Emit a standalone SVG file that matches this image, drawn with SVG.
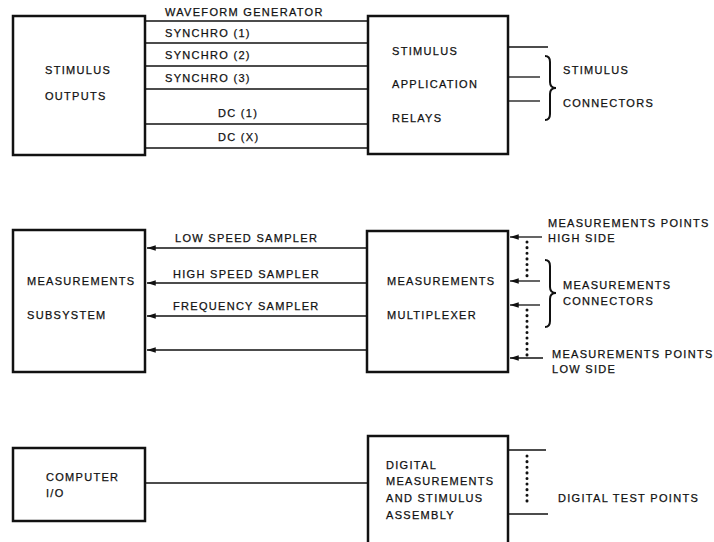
<svg xmlns="http://www.w3.org/2000/svg" width="714" height="542" viewBox="0 0 714 542">
  <defs>
    <style>
      .box { fill: #fff; stroke: #111; stroke-width: 2.5; }
      .ln { stroke: #111; stroke-width: 1.3; fill: none; }
      .dot { stroke: #111; stroke-width: 3; stroke-dasharray: 0.1 5.5; stroke-linecap: round; fill: none; }
      .brace { stroke: #111; stroke-width: 2; fill: none; }
      text { font-family: "Liberation Sans", Arial, sans-serif; font-size: 11px; letter-spacing: 1.3px; fill: #111; stroke: #111; stroke-width: 0.25px; }
    </style>
    <!-- left-pointing arrowhead, tip placed at the line's start point -->
    <marker id="arr" viewBox="0 0 10 8" refX="0" refY="4" markerWidth="10" markerHeight="7" markerUnits="userSpaceOnUse" orient="auto">
      <path d="M0,4 L10,0.8 L10,7.2 Z" fill="#111"/>
    </marker>
  </defs>

  <!-- Stimulus section -->
  <g id="stimulus-outputs">
    <rect class="box" x="13" y="16" width="132" height="139"/>
    <text x="45" y="74">STIMULUS</text>
    <text x="45" y="100">OUTPUTS</text>
  </g>
  <g id="stimulus-relays">
    <rect class="box" x="368" y="16" width="140" height="138"/>
    <text x="392" y="55">STIMULUS</text>
    <text x="392" y="88">APPLICATION</text>
    <text x="392" y="122">RELAYS</text>
  </g>
  <g id="stimulus-connectors">
    <path class="brace" d="M545,56 Q550,56 550,62 L550,82 Q550,88 556,88 Q550,88 550,94 L550,114 Q550,120 545,120"/>
    <text x="563" y="74">STIMULUS</text>
    <text x="563" y="107">CONNECTORS</text>
  </g>

  <!-- Measurement section -->
  <g id="measurements-subsystem">
    <rect class="box" x="13" y="230" width="132" height="142"/>
    <text x="27" y="285">MEASUREMENTS</text>
    <text x="27" y="319">SUBSYSTEM</text>
  </g>
  <g id="measurements-multiplexer">
    <rect class="box" x="367" y="231" width="141" height="141"/>
    <text x="387" y="285">MEASUREMENTS</text>
    <text x="387" y="319">MULTIPLEXER</text>
  </g>
  <g id="measurement-points">
    <text x="548" y="227">MEASUREMENTS POINTS</text>
    <text x="548" y="242">HIGH SIDE</text>
    <path class="brace" d="M545,260 Q550,260 550,266 L550,287 Q550,293 556,293 Q550,293 550,299 L550,321 Q550,327 545,327"/>
    <text x="563" y="289">MEASUREMENTS</text>
    <text x="563" y="305">CONNECTORS</text>
    <text x="552" y="358">MEASUREMENTS POINTS</text>
    <text x="552" y="373">LOW SIDE</text>
  </g>

  <!-- Digital section -->
  <g id="computer-io">
    <rect class="box" x="13" y="448" width="132" height="73"/>
    <text x="46" y="481">COMPUTER</text>
    <text x="46" y="497">I/O</text>
  </g>
  <g id="digital-assembly">
    <rect class="box" x="368" y="436" width="140" height="110"/>
    <text x="386" y="469">DIGITAL</text>
    <text x="386" y="485">MEASUREMENTS</text>
    <text x="386" y="502">AND STIMULUS</text>
    <text x="386" y="519">ASSEMBLY</text>
  </g>
  <g id="digital-test-points">
    <text x="558" y="502">DIGITAL TEST POINTS</text>
  </g>

  <g id="connectors">
    <!-- stimulus outputs to relays -->
    <line class="ln" x1="145" y1="21" x2="368" y2="21"/>
    <line class="ln" x1="145" y1="43" x2="368" y2="43"/>
    <line class="ln" x1="145" y1="66" x2="368" y2="66"/>
    <line class="ln" x1="145" y1="89" x2="368" y2="89"/>
    <line class="ln" x1="145" y1="124" x2="368" y2="124"/>
    <line class="ln" x1="145" y1="148" x2="368" y2="148"/>
    <text x="165" y="16">WAVEFORM GENERATOR</text>
    <text x="165" y="37">SYNCHRO (1)</text>
    <text x="165" y="59">SYNCHRO (2)</text>
    <text x="165" y="82">SYNCHRO (3)</text>
    <text x="218" y="117">DC (1)</text>
    <text x="218" y="141">DC (X)</text>
    <!-- relay outputs -->
    <line class="ln" x1="508" y1="47" x2="548" y2="47"/>
    <line class="ln" x1="508" y1="77" x2="540" y2="77"/>
    <line class="ln" x1="508" y1="101" x2="540" y2="101"/>

    <!-- multiplexer to subsystem -->
    <line class="ln" x1="147" y1="248" x2="367" y2="248" marker-start="url(#arr)"/>
    <line class="ln" x1="147" y1="283" x2="367" y2="283" marker-start="url(#arr)"/>
    <line class="ln" x1="147" y1="316" x2="367" y2="316" marker-start="url(#arr)"/>
    <line class="ln" x1="147" y1="350" x2="367" y2="350" marker-start="url(#arr)"/>
    <text x="175" y="242">LOW SPEED SAMPLER</text>
    <text x="173" y="278">HIGH SPEED SAMPLER</text>
    <text x="173" y="310">FREQUENCY SAMPLER</text>
    <!-- measurement points into multiplexer -->
    <line class="ln" x1="510" y1="237" x2="542" y2="237" marker-start="url(#arr)"/>
    <line class="ln" x1="510" y1="281" x2="540" y2="281" marker-start="url(#arr)"/>
    <line class="ln" x1="510" y1="305" x2="540" y2="305" marker-start="url(#arr)"/>
    <line class="ln" x1="510" y1="358" x2="543" y2="358" marker-start="url(#arr)"/>
    <line class="dot" x1="527" y1="242" x2="527" y2="277"/>
    <line class="dot" x1="527" y1="310" x2="527" y2="355"/>

    <!-- computer I/O to digital assembly -->
    <line class="ln" x1="145" y1="483" x2="368" y2="483"/>
    <!-- digital test points -->
    <line class="ln" x1="508" y1="450" x2="546" y2="450"/>
    <line class="ln" x1="508" y1="514" x2="548" y2="514"/>
    <line class="dot" x1="527" y1="456" x2="527" y2="506"/>
  </g>
</svg>
